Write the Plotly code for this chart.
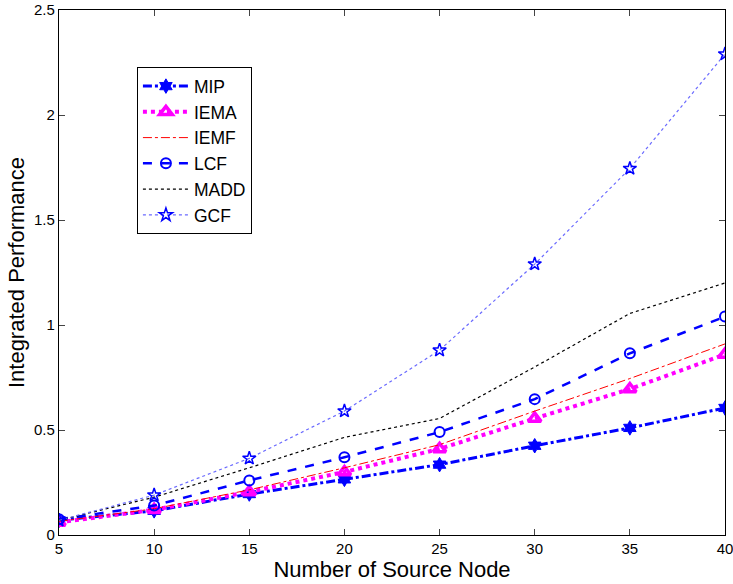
import plotly.graph_objects as go

# Number of source nodes on the x axis
nodes = [5, 10, 15, 20, 25, 30, 35, 40]

# Integrated performance of each scheme
mip = [0.07, 0.115, 0.195, 0.265, 0.335, 0.425, 0.51, 0.605]
iema = [0.06, 0.12, 0.205, 0.30, 0.41, 0.555, 0.695, 0.86]
iemf = [0.065, 0.125, 0.215, 0.32, 0.43, 0.59, 0.745, 0.91]
lcf = [0.075, 0.14, 0.26, 0.37, 0.49, 0.647, 0.865, 1.04]
madd = [0.07, 0.18, 0.32, 0.465, 0.555, 0.80, 1.055, 1.20]
gcf = [0.07, 0.19, 0.365, 0.59, 0.88, 1.29, 1.745, 2.29]

x_ticks = [5, 10, 15, 20, 25, 30, 35, 40]
y_ticks = [0, 0.5, 1, 1.5, 2, 2.5]
y_tick_text = ["0", "0.5", "1", "1.5", "2", "2.5"]

BLUE = "#0000ff"
MAGENTA = "#ff00ff"
RED = "#ff0000"

fig = go.Figure()

fig.add_trace(go.Scatter(
    x=nodes, y=mip, name="MIP", mode="lines+markers",
    line=dict(color=BLUE, width=3, dash="dashdot"),
    marker=dict(symbol="hexagram", size=11, color=BLUE, line=dict(color=BLUE, width=1)),
))
fig.add_trace(go.Scatter(
    x=nodes, y=iema, name="IEMA", mode="lines+markers",
    line=dict(color=MAGENTA, width=4, dash="dot"),
    marker=dict(symbol="triangle-up-open", size=11, color=MAGENTA, line=dict(color=MAGENTA, width=3.5)),
))
fig.add_trace(go.Scatter(
    x=nodes, y=iemf, name="IEMF", mode="lines",
    line=dict(color=RED, width=1, dash="dashdot"),
))
fig.add_trace(go.Scatter(
    x=nodes, y=lcf, name="LCF", mode="lines+markers",
    line=dict(color=BLUE, width=2.5, dash="dash"),
    marker=dict(symbol="circle-open", size=10, color=BLUE, line=dict(color=BLUE, width=2)),
))
fig.add_trace(go.Scatter(
    x=nodes, y=madd, name="MADD", mode="lines",
    line=dict(color="black", width=1.2, dash="dot"),
))
fig.add_trace(go.Scatter(
    x=nodes, y=gcf, name="GCF", mode="lines+markers",
    line=dict(color="#6a6aff", width=1.2, dash="dot"),
    marker=dict(symbol="star-open", size=10, color=BLUE, line=dict(color=BLUE, width=1.5)),
))

font_family = "Liberation Sans, Arial, Helvetica, sans-serif"

fig.update_layout(
    width=733, height=584,
    margin=dict(l=59, r=8, t=10, b=49),
    paper_bgcolor="white", plot_bgcolor="white",
    font=dict(family=font_family, size=15, color="black"),
    showlegend=True,
    legend=dict(
        x=0.117, y=0.891, xanchor="left", yanchor="top",
        bgcolor="white", bordercolor="black", borderwidth=1,
        font=dict(size=17.5, family=font_family),
        itemwidth=46,
    ),
    xaxis=dict(
        range=[5, 40], tickvals=x_ticks, ticks="inside", ticklen=6,
        showline=True, linecolor="black", linewidth=1.2, mirror="ticks",
        showgrid=False, zeroline=False,
        tickfont=dict(size=15), ticklabeloverflow="allow",
        title=dict(text="Number of Source Node", font=dict(size=22), standoff=0),
        automargin=False,
    ),
    yaxis=dict(
        range=[0, 2.5], tickvals=y_ticks, ticktext=y_tick_text, ticks="inside", ticklen=6,
        showline=True, linecolor="black", linewidth=1.2, mirror="ticks",
        showgrid=False, zeroline=False,
        tickfont=dict(size=15), ticklabeloverflow="allow",
        title=dict(text="Integrated Performance", font=dict(size=22), standoff=3),
        automargin=False,
    ),
)

fig.write_html("out.html")
